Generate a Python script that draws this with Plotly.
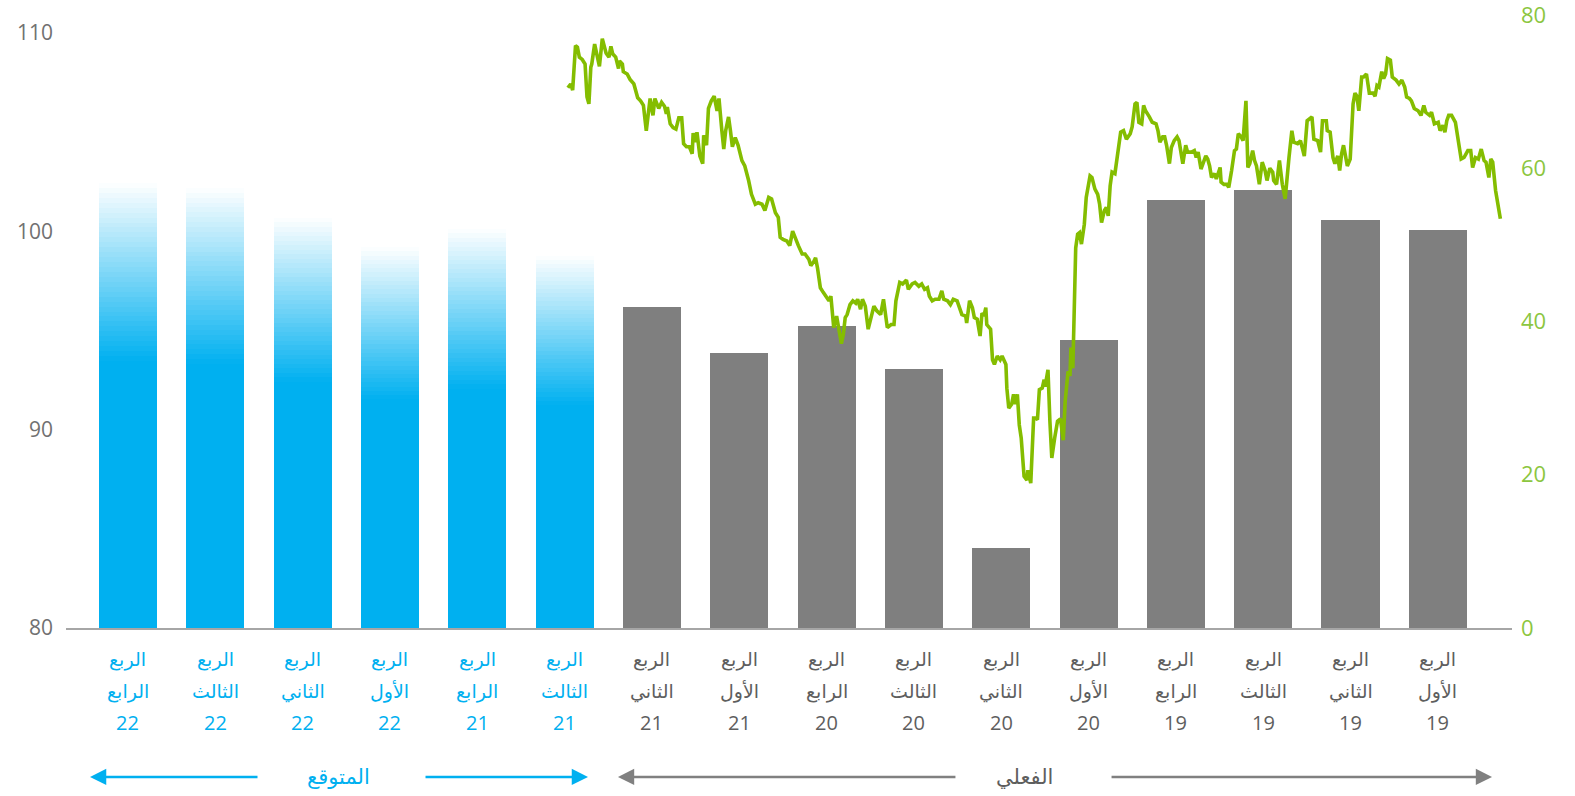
import plotly.graph_objects as go
import pandas as pd

# ---------------- data ----------------
categories = ["Q4-2022", "Q3-2022", "Q2-2022", "Q1-2022", "Q4-2021", "Q3-2021",
              "Q2-2021", "Q1-2021", "Q4-2020", "Q3-2020", "Q2-2020", "Q1-2020",
              "Q4-2019", "Q3-2019", "Q2-2019", "Q1-2019"]
label_row1 = ["الربع"] * 16
label_row2 = ["الرابع", "الثالث", "الثاني", "الأول", "الرابع", "الثالث",
              "الثاني", "الأول", "الرابع", "الثالث", "الثاني", "الأول",
              "الرابع", "الثالث", "الثاني", "الأول"]
label_row3 = ["22", "22", "22", "22", "21", "21",
              "21", "21", "20", "20", "20", "20",
              "19", "19", "19", "19"]

forecast_categories = categories[:6]
forecast_values = [102.44, 102.19, 100.68, 99.21, 100.12, 98.76]
actual_categories = categories[6:]
actual_values = [96.17, 93.89, 95.25, 93.08, 84.01, 94.52, 101.58, 102.09, 100.58, 100.07]

# price line (right axis): days before the last observation date, and price
price_last_date = "2021-08-13"
price_days_before = [
    1, 4, 6, 7, 9, 11, 13, 16, 19, 21, 23, 25, 26, 29, 30, 32, 34, 37, 39, 41,
    44, 46, 48, 51, 54, 55, 58, 59, 63, 66, 70, 74, 77, 80, 83, 87, 90, 92, 96, 99,
    102, 104, 105, 108, 111, 114, 117, 120, 122, 125, 128, 131, 132, 134, 136, 139, 142, 143, 146, 148,
    151, 154, 157, 159, 162, 164, 166, 169, 171, 173, 176, 179, 183, 186, 190, 193, 197, 200, 204, 207,
    211, 214, 218, 221,
    223, 226, 230, 233, 236, 239, 242, 246, 249, 253, 255, 258, 260, 262, 265, 268, 271, 274, 276, 279,
    282, 284, 287, 289, 291, 293, 296, 299, 302, 304, 307, 309, 312, 315, 318, 321, 324, 328, 331, 333,
    335, 339, 342, 344, 348, 351, 355, 357, 361, 364, 368, 371, 374, 377, 379, 382, 385, 389, 392, 394,
    398, 401, 404, 408, 411,
    413, 417, 418, 421, 424, 426, 429, 432, 434, 436, 438, 439, 443, 445, 447, 450, 453, 455, 459, 460,
    462, 465, 467, 469, 471, 473, 475, 478, 481, 482, 485, 488, 490, 492, 494, 497, 499, 500, 503, 505,
    507, 510, 513, 516, 519, 521, 524, 526, 527, 529,
    532, 534, 536, 538, 541, 543, 547, 549, 552, 555, 557, 559, 562, 564, 566, 568, 570, 573, 576, 579,
    582, 585, 589, 591, 594, 596, 598, 601, 603, 605, 609, 612, 616, 618, 620, 623, 625, 627, 630, 632,
    635, 638, 640, 644, 647, 649, 653, 656, 658, 660, 663, 666, 668, 670, 672, 674, 677, 679, 681, 683,
    684, 687, 690, 692, 695, 698, 700, 702, 705, 707,
    710, 712, 714, 717, 719, 721, 724, 727, 730, 732, 735, 738, 739, 742, 745, 747, 748, 751, 753, 755,
    758, 760, 764, 767, 771, 774, 779, 781, 785, 788, 790, 794, 795, 798, 801, 803, 806, 808, 810, 812,
    816, 819, 822, 824, 826, 828, 831, 833, 836, 839, 843, 845, 847, 849, 852, 854, 856, 858, 861, 863,
    867, 870, 873, 876, 878, 881, 883, 886, 890, 893, 896, 898, 902, 904, 907, 911, 913, 916, 918, 920,
    922, 925, 929, 932, 935, 938, 942, 945, 947, 950, 953, 956, 959, 961, 964, 966, 968, 971, 973, 976,
]
price_values = [
    70.5, 71.0, 70.2, 72.3, 76.0, 75.8, 74.5, 74.2, 73.6, 69.3, 68.4, 73.2, 73.6, 76.2, 75.6, 74.5, 73.3, 76.9, 76.0, 75.0,
    74.5, 75.9, 74.9, 74.5, 73.0, 74.0, 73.6, 72.6, 72.3, 71.6, 71.0, 69.2, 68.8, 68.2, 64.9, 69.1, 66.9, 69.1, 67.8, 68.6,
    68.1, 67.1, 68.0, 65.8, 65.3, 65.1, 66.6, 66.6, 63.2, 62.8, 62.8, 61.9, 64.6, 63.4, 64.7, 61.6, 60.6, 64.3, 63.0, 67.8,
    68.8, 69.4, 67.5, 69.1, 64.9, 62.5, 64.9, 66.7, 64.9, 62.8, 64.0, 63.0, 61.0, 60.3, 58.4, 56.6, 55.3, 55.5, 55.3, 54.5,
    56.2, 56.0, 54.2, 53.6,
    51.0, 50.7, 50.5, 49.9, 51.8, 50.7, 49.9, 48.8, 48.8, 48.1, 47.3, 47.8, 48.3, 47.0, 44.4, 43.8, 43.3, 42.7, 43.3, 39.2,
    40.7, 39.2, 37.1, 38.3, 40.5, 40.9, 42.2, 42.7, 42.4, 42.9, 41.6, 42.9, 42.0, 39.0, 40.5, 42.0, 41.4, 40.9, 42.9, 41.4,
    39.2, 39.6, 39.6, 42.7, 45.1, 44.9, 45.4, 44.2, 44.9, 45.1, 44.6, 44.9, 44.2, 44.4, 43.3, 42.7, 42.9, 42.9, 44.0, 42.9,
    42.7, 42.2, 42.9, 42.7, 41.4,
    40.9, 40.7, 39.8, 42.7, 41.8, 40.5, 40.3, 38.1, 41.1, 40.7, 41.8, 39.6, 39.0, 35.0, 34.4, 35.5, 35.0, 35.5, 34.4, 31.3,
    28.7, 29.2, 30.5, 29.2, 30.5, 26.5, 24.8, 19.8, 19.3, 20.6, 18.9, 27.4, 27.4, 27.2, 31.1, 31.3, 32.4, 31.5, 33.7, 27.0,
    22.2, 24.8, 27.0, 27.3, 24.5, 29.6, 33.5, 32.9, 36.6, 33.9,
    49.6, 51.4, 51.6, 50.1, 52.7, 56.2, 59.0, 58.8, 57.3, 56.6, 55.3, 52.9, 54.5, 54.9, 53.8, 57.7, 59.5, 59.3, 61.9, 64.7,
    64.9, 63.8, 64.5, 65.4, 68.4, 68.6, 66.0, 65.8, 68.2, 67.5, 66.7, 66.0, 65.8, 64.9, 63.4, 64.1, 64.1, 63.0, 60.6, 62.7,
    63.6, 64.1, 63.6, 60.6, 63.0, 62.1, 62.1, 62.3, 61.4, 62.1, 59.9, 60.8, 61.6, 61.2, 60.3, 58.8, 59.3, 58.6, 59.5, 60.1,
    58.2, 57.9, 57.9, 57.5, 59.7, 62.3, 62.5, 64.5, 64.1, 63.6,
    68.8, 60.1, 60.6, 62.3, 61.0, 60.3, 57.9, 60.8, 59.7, 58.4, 60.0, 59.5, 58.4, 57.9, 61.0, 58.4, 57.9, 56.0, 59.5, 61.4,
    64.9, 63.4, 63.2, 63.6, 61.6, 66.2, 66.7, 63.8, 63.6, 62.1, 66.2, 66.2, 64.9, 64.7, 61.4, 60.6, 61.6, 59.7, 61.9, 63.0,
    60.3, 61.2, 68.4, 69.8, 69.4, 67.5, 71.9, 71.9, 72.3, 69.8, 69.8, 69.4, 70.8, 70.6, 72.6, 71.7, 72.3, 74.3, 74.1, 71.9,
    71.5, 71.0, 71.5, 70.6, 69.3, 69.1, 68.8, 67.8, 67.5, 66.9, 68.2, 67.3, 66.9, 67.3, 65.8, 66.0, 64.9, 65.6, 64.7, 66.2,
    66.9, 66.9, 66.0, 63.2, 61.2, 61.4, 62.3, 62.3, 60.1, 61.4, 61.2, 62.5, 61.0, 60.8, 58.8, 61.2, 60.8, 57.1, 55.3, 53.4,
]

left_ticks = [80, 90, 100, 110]
right_ticks = [0, 20, 40, 60, 80]
forecast_label = "المتوقع"
actual_label = "الفعلي"

# ---------------- styles ----------------
BLUE = "#00B0F0"
GRAY_BAR = "#7F7F7F"
GRAY_TEXT = "#5E5E5E"
GREEN_LINE = "#84BD00"
GREEN_TICK = "#8CC63F"
AXIS_MIN = 80
BAR_W = 0.665
SOLID_FRAC = 0.6
N_STEPS = 36

X_RANGE = [-0.709, 15.849]
Y_RANGE = [80, 110.91]
Y2_RANGE = [0, 80]

# date axis aligned to category index: index i <-> anchor - i quarters
anchor = pd.Timestamp("2022-11-15")
Q_DAYS = 91.31
x2_range = [str(anchor - pd.Timedelta(days=X_RANGE[0] * Q_DAYS)),
            str(anchor - pd.Timedelta(days=X_RANGE[1] * Q_DAYS))]
price_dates = pd.Timestamp(price_last_date) - pd.to_timedelta(price_days_before, unit="D")

fig = go.Figure()

# forecast bars with vertical fade (solid base + fading segments)
heights = [v - AXIS_MIN for v in forecast_values]
fig.add_trace(go.Bar(x=forecast_categories, y=[h * SOLID_FRAC for h in heights], base=AXIS_MIN,
                     width=BAR_W, marker=dict(color=BLUE, line=dict(width=0)),
                     hoverinfo="skip", showlegend=False))
seg = [h * (1 - SOLID_FRAC) / N_STEPS for h in heights]
for k in range(N_STEPS):
    bases = [AXIS_MIN + h * SOLID_FRAC + k * s for h, s in zip(heights, seg)]
    alpha = max(0.0, 1 - (k + 0.5) / N_STEPS)
    fig.add_trace(go.Bar(x=forecast_categories, y=seg, base=bases, width=BAR_W,
                         marker=dict(color=f"rgba(0,176,240,{alpha:.3f})", line=dict(width=0)),
                         hoverinfo="skip", showlegend=False))

# actual bars
fig.add_trace(go.Bar(x=actual_categories, y=[v - AXIS_MIN for v in actual_values], base=AXIS_MIN,
                     width=BAR_W, marker=dict(color=GRAY_BAR, line=dict(width=0)),
                     showlegend=False))

# price line
fig.add_trace(go.Scatter(x=price_dates, y=price_values, xaxis="x2", yaxis="y2", mode="lines",
                         line=dict(color=GREEN_LINE, width=3.6), showlegend=False))

# category labels (three rows)
annotations = []
row_y = [-0.052, -0.103, -0.154]
for i, cat in enumerate(categories):
    col = BLUE if i < 6 else GRAY_TEXT
    for r, (txt, fam, sz) in enumerate([(label_row1[i], "DejaVu Sans", 19),
                                          (label_row2[i], "DejaVu Sans", 19),
                                          (label_row3[i], "Open Sans", 20)]):
        annotations.append(dict(x=cat, xref="x", y=row_y[r], yref="paper", text=txt,
                                showarrow=False, xanchor="center", yanchor="middle",
                                font=dict(family=fam, size=sz, color=col)))

# bottom period labels with arrows
ARROW_Y = -0.243
annotations.append(dict(x=0.1885, y=ARROW_Y, xref="paper", yref="paper", text=forecast_label,
                        showarrow=False, xanchor="center", yanchor="middle",
                        font=dict(family="DejaVu Sans", size=21, color=BLUE)))
annotations.append(dict(x=0.663, y=ARROW_Y, xref="paper", yref="paper", text=actual_label,
                        showarrow=False, xanchor="center", yanchor="middle",
                        font=dict(family="DejaVu Sans", size=21, color=GRAY_TEXT)))
for hx, axp, col in [(0.0166, 169, BLUE), (0.361, -164, BLUE),
                     (0.3817, 339, "#808080"), (0.9862, -382, "#808080")]:
    annotations.append(dict(x=hx, y=ARROW_Y, xref="paper", yref="paper", text="",
                            showarrow=True, ax=axp, ay=0, arrowhead=2, arrowsize=1.3,
                            arrowwidth=2.5, arrowcolor=col, standoff=0, startstandoff=0))

fig.update_layout(
    template="none",
    width=1575, height=796,
    margin=dict(l=66, r=63, t=15, b=168, autoexpand=False),
    paper_bgcolor="white", plot_bgcolor="white",
    barmode="overlay", bargap=0,
    showlegend=False,
    annotations=annotations,
    xaxis=dict(type="category", categoryorder="array", categoryarray=categories,
               range=X_RANGE, showticklabels=False, ticks="", showgrid=False, zeroline=False,
               showline=True, linecolor="#A6A6A6", linewidth=1.5, automargin=False),
    xaxis2=dict(type="date", overlaying="x", range=x2_range, visible=False,
                showgrid=False, zeroline=False, automargin=False),
    yaxis=dict(range=Y_RANGE, tickvals=left_ticks, showgrid=False, zeroline=False,
               showline=False, ticks="", ticklabelstandoff=12, automargin=False,
               tickfont=dict(family="Open Sans", size=21, color="#717171")),
    yaxis2=dict(range=Y2_RANGE, tickvals=right_ticks, overlaying="y", side="right",
                showgrid=False, zeroline=False, showline=False, ticks="", ticklabelstandoff=8,
                automargin=False, ticklabeloverflow="allow",
                tickfont=dict(family="Open Sans", size=22, color=GREEN_TICK)),
)

# remove the default 8px page margin so the figure fills the window exactly
fig.write_html("out.html", config={"displayModeBar": False},
               post_script="document.body.style.margin='0';")
